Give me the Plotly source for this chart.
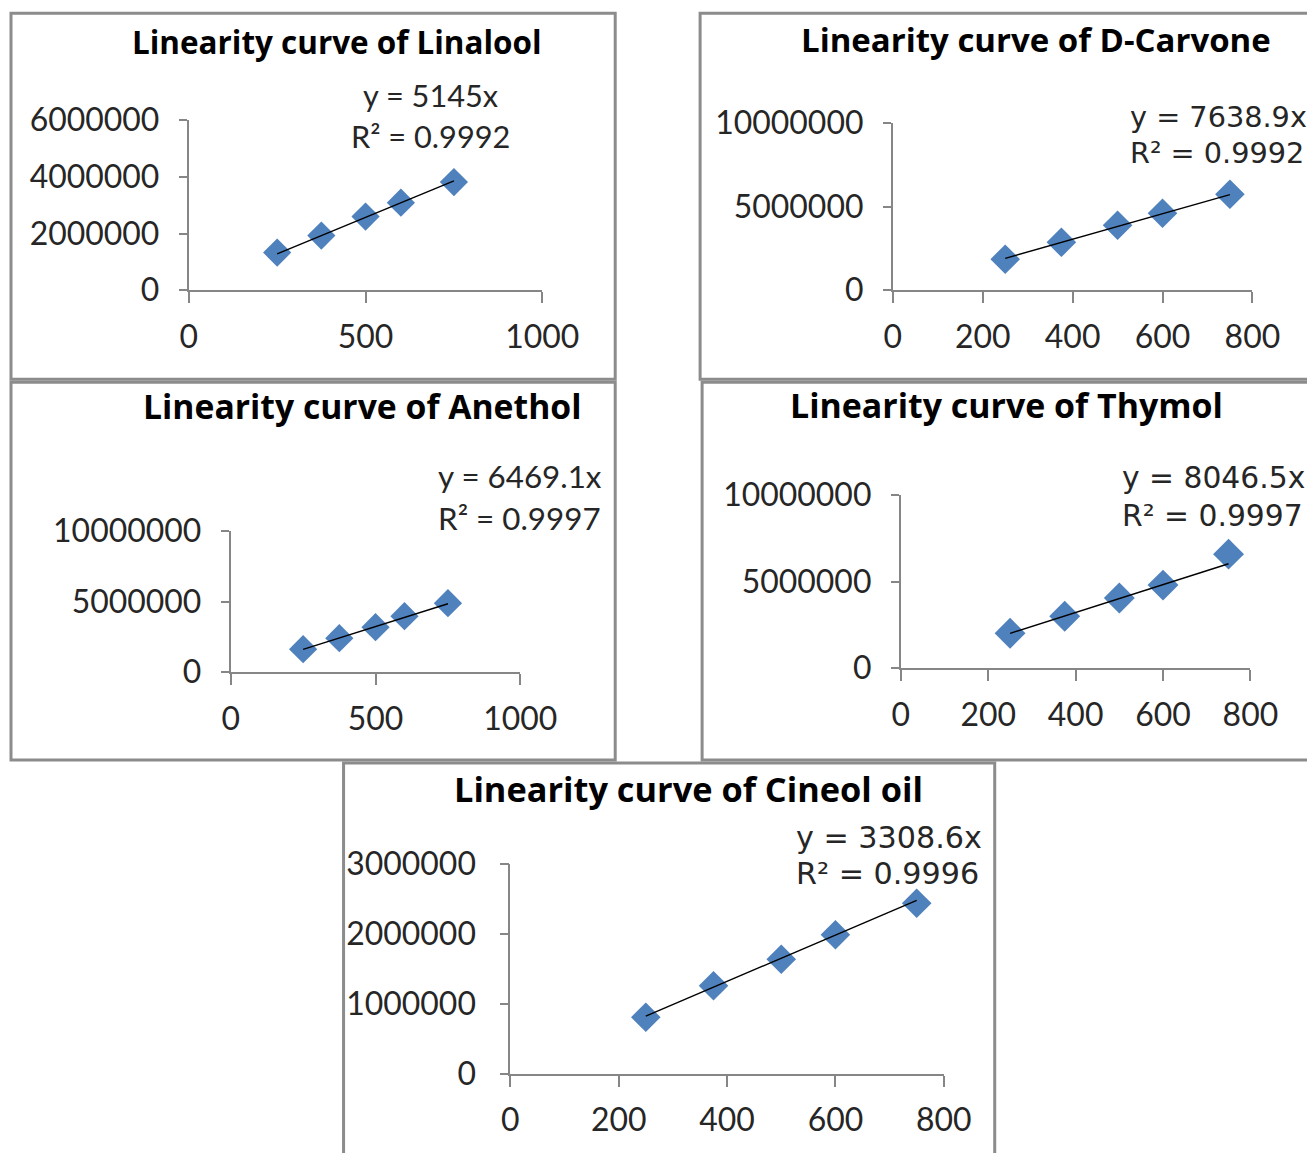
import plotly.graph_objects as go

# The page shows the figure slightly reduced and offset by the body margin,
# so page positions are mapped back into figure pixels here.
SCALE = 0.967
OX, OY = 8.0, 19.7
W, H = 1343, 1172

# Calibration data: concentration vs. peak area for each oil component
concentration = [250, 375, 500, 600, 750]

compounds = ["Linalool", "D-Carvone", "Anethol", "Thymol", "Cineol oil"]

area_linalool = [1330000, 1930000, 2600000, 3090000, 3820000]
area_carvone = [1860000, 2870000, 3890000, 4610000, 5750000]
area_anethol = [1630000, 2410000, 3190000, 3970000, 4890000]
area_thymol = [2020000, 3000000, 4050000, 4800000, 6590000]
area_cineol = [810000, 1260000, 1640000, 1990000, 2440000]

slopes = ["5145", "7638.9", "6469.1", "8046.5", "3308.6"]
r_squared = ["0.9992", "0.9992", "0.9997", "0.9997", "0.9996"]

x_ranges = [[0, 1000], [0, 800], [0, 1000], [0, 800], [0, 800]]
x_steps = [500, 200, 500, 200, 200]
y_ranges = [[0, 6000000], [0, 10000000], [0, 10000000], [0, 10000000], [0, 3000000]]
y_steps = [2000000, 5000000, 5000000, 5000000, 1000000]

areas = [area_linalool, area_carvone, area_anethol, area_thymol, area_cineol]


def px_x(v):
    return ((v - OX) / SCALE) / W


def px_y(v):
    return 1 - ((v - OY) / SCALE) / H


def fs(v):
    return v / SCALE


# Page-pixel layout of each panel: plot box (x0, x1, y_top, y_bottom),
# frame (x0, y0, x1, y1), title centre, equation anchor
plot_boxes = [
    (188, 542, 119, 289),
    (893, 1253, 122, 289),
    (230, 520, 530, 671),
    (901, 1251, 494, 667),
    (510, 944, 863, 1073),
]
frames = [
    (10, 12, 615, 378),
    (700, 12, 1312, 378),
    (10, 381, 615, 759),
    (702, 381, 1312, 759),
    (343, 762, 995, 1160),
]
title_pos = [(336, 40), (1036, 38), (361, 405), (1007, 404), (688, 787)]
title_size = [30.4, 31.9, 32.6, 32.8, 33.2]
eq_pos = [
    ("center", 430, 94, 135),
    ("left", 1128, 116, 152),
    ("left", 436, 475, 517),
    ("left", 1120, 476, 514),
    ("left", 794, 836, 872),
]
eq_font = ["Lato", "DejaVu Sans", "Lato", "DejaVu Sans", "DejaVu Sans"]
eq_size = [29.7, 27.8, 30.3, 28.8, 29.2]
marker_size = [21, 22, 21, 23, 22]
ylabel_gap = [13, 13, 13, 13, 18]

AXIS_COLOR = "#868686"
TEXT_COLOR = "#262626"
MARKER_BLUE = "#4F81BD"
FONT = "Lato"

fig = go.Figure()
layout_axes = {}
annotations = []
shapes = []

for i, name in enumerate(compounds):
    n = "" if i == 0 else str(i + 1)
    xa, ya = "x" + n, "y" + n
    x0, x1, yt, yb = plot_boxes[i]

    # Measured points
    fig.add_trace(go.Scatter(
        x=concentration, y=areas[i], mode="markers",
        marker=dict(symbol="diamond", size=fs(marker_size[i]),
                    color=MARKER_BLUE, line=dict(width=0)),
        xaxis=xa, yaxis=ya, showlegend=False, cliponaxis=False,
    ))

    # Linear trendline through the origin over the measured range
    k = float(slopes[i])
    fit_x = [concentration[0], concentration[-1]]
    fig.add_trace(go.Scatter(
        x=fit_x, y=[k * v for v in fit_x], mode="lines",
        line=dict(color="#000000", width=1.4),
        xaxis=xa, yaxis=ya, showlegend=False,
    ))

    common = dict(
        showgrid=False, zeroline=False, showline=True,
        linecolor=AXIS_COLOR, linewidth=1.5,
        ticks="outside", tickcolor=AXIS_COLOR, tickwidth=1.5,
        tickfont=dict(family=FONT, size=fs(30.9), color=TEXT_COLOR),
        fixedrange=True,
    )
    layout_axes["xaxis" + n] = dict(
        common, domain=[px_x(x0), px_x(x1)], anchor=ya,
        range=x_ranges[i], tick0=0, dtick=x_steps[i], ticklen=fs(11),
        ticklabelstandoff=6,
    )
    layout_axes["yaxis" + n] = dict(
        common, domain=[px_y(yb), px_y(yt)], anchor=xa,
        range=y_ranges[i], tick0=0, dtick=y_steps[i], ticklen=fs(8),
        tickformat="d", ticklabelstandoff=ylabel_gap[i],
    )

    # Panel frame
    fx0, fy0, fx1, fy1 = frames[i]
    shapes.append(dict(
        type="rect", xref="paper", yref="paper",
        x0=px_x(fx0), x1=px_x(fx1), y0=px_y(fy1), y1=px_y(fy0),
        line=dict(color="#8c8c8c", width=3), layer="below",
    ))

    # Panel title
    tx, ty = title_pos[i]
    annotations.append(dict(
        text="<b>Linearity curve of " + name + "</b>",
        x=px_x(tx), y=px_y(ty), xref="paper", yref="paper",
        xanchor="center", yanchor="middle", showarrow=False,
        font=dict(family="Open Sans", size=fs(title_size[i]), color="#000000"),
    ))

    # Regression equation and coefficient of determination
    align, ex, ey1, ey2 = eq_pos[i]
    lines = ["y = " + slopes[i] + "x", "R\u00b2 = " + r_squared[i]]
    for txt, ey in zip(lines, (ey1, ey2)):
        annotations.append(dict(
            text=txt, x=px_x(ex), y=px_y(ey), xref="paper", yref="paper",
            xanchor=align, yanchor="middle", showarrow=False,
            font=dict(family=eq_font[i], size=fs(eq_size[i]), color=TEXT_COLOR),
        ))

fig.update_layout(
    width=W, height=H,
    margin=dict(l=0, r=0, t=0, b=0),
    paper_bgcolor="#ffffff", plot_bgcolor="#ffffff",
    annotations=annotations, shapes=shapes,
    **layout_axes,
)

fig.write_html("out.html")
